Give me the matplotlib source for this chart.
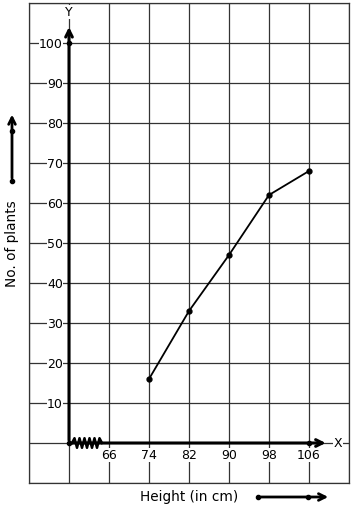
import numpy as np
import matplotlib.pyplot as plt

# data
heights = [74, 82, 90, 98, 106]
plants = [16, 33, 47, 62, 68]
x_ticks = [66, 74, 82, 90, 98, 106]
y_ticks = [10, 20, 30, 40, 50, 60, 70, 80, 90, 100]

fig = plt.figure(figsize=(3.54, 5.10), dpi=100)
ax = fig.add_axes([29 / 354, 26 / 510, 320 / 354, 480 / 510])
ax.set_xlim(50, 114)
ax.set_ylim(-10, 110)

# grid
for gx in np.arange(50, 115, 8):
    ax.axvline(gx, color='#333333', lw=0.9, zorder=1)
for gy in np.arange(-10, 111, 10):
    ax.axhline(gy, color='#333333', lw=0.9, zorder=1)
ax.set_xticks([])
ax.set_yticks([])
for s in ax.spines.values():
    s.set_color('#333333')
    s.set_linewidth(0.9)

box = dict(facecolor='white', edgecolor='none', pad=0.3)

# axes with arrows
ax.annotate('', xy=(58, 104.7), xytext=(58, 0),
            arrowprops=dict(arrowstyle='->', lw=2.2, color='black', mutation_scale=12), zorder=4)
ax.annotate('', xy=(109.9, 0), xytext=(58, 0),
            arrowprops=dict(arrowstyle='->', lw=2.2, color='black', mutation_scale=12), zorder=4)
ax.text(58, 107.8, 'Y', ha='center', va='center', fontsize=9, bbox=box, zorder=5)
ax.text(111.8, 0, 'X', ha='center', va='center', fontsize=9, bbox=box, zorder=5)

# kink on x-axis
zx = np.linspace(58.6, 64.6, 13)
zy = np.array([0, 1.2, -1.2, 1.2, -1.2, 1.2, -1.2, 1.2, -1.2, 1.2, -1.2, 1.2, 0])
ax.plot(zx, zy, color='black', lw=1.8, zorder=5)
ax.plot([58, 106], [0, 0], 'o', color='black', ms=3, zorder=5)
ax.plot(58, 100, 'o', color='black', ms=3, zorder=5)

# tick labels
for t in y_ticks:
    ax.text(56.8, t, str(t), ha='right', va='center', fontsize=9, bbox=box, zorder=3)
for t in x_ticks:
    ax.text(t, -3, str(t), ha='center', va='center', fontsize=9, bbox=box, zorder=3)

# data line
ax.plot(heights, plants, '-o', color='black', lw=1.3, ms=3.5, zorder=6)

# axis titles and direction arrows
ax.text(82, -13.3, 'Height (in cm)', ha='center', va='center', fontsize=9.8, clip_on=False)
ax.text(46.6, 50, 'No. of plants', ha='center', va='center', rotation=90, fontsize=9.8, clip_on=False)

ax.annotate('', xy=(46.6, 82.8), xytext=(46.6, 65.5), annotation_clip=False,
            arrowprops=dict(arrowstyle='->', lw=2, color='black', mutation_scale=12))
ax.plot([46.6, 46.6], [65.5, 78], 'o', color='black', ms=3, clip_on=False)
ax.annotate('', xy=(110.4, -13.5), xytext=(95.8, -13.5), annotation_clip=False,
            arrowprops=dict(arrowstyle='->', lw=2, color='black', mutation_scale=12))
ax.plot([95.8, 105.8], [-13.5, -13.5], 'o', color='black', ms=3, clip_on=False)

fig.savefig('out.png', dpi=100)
